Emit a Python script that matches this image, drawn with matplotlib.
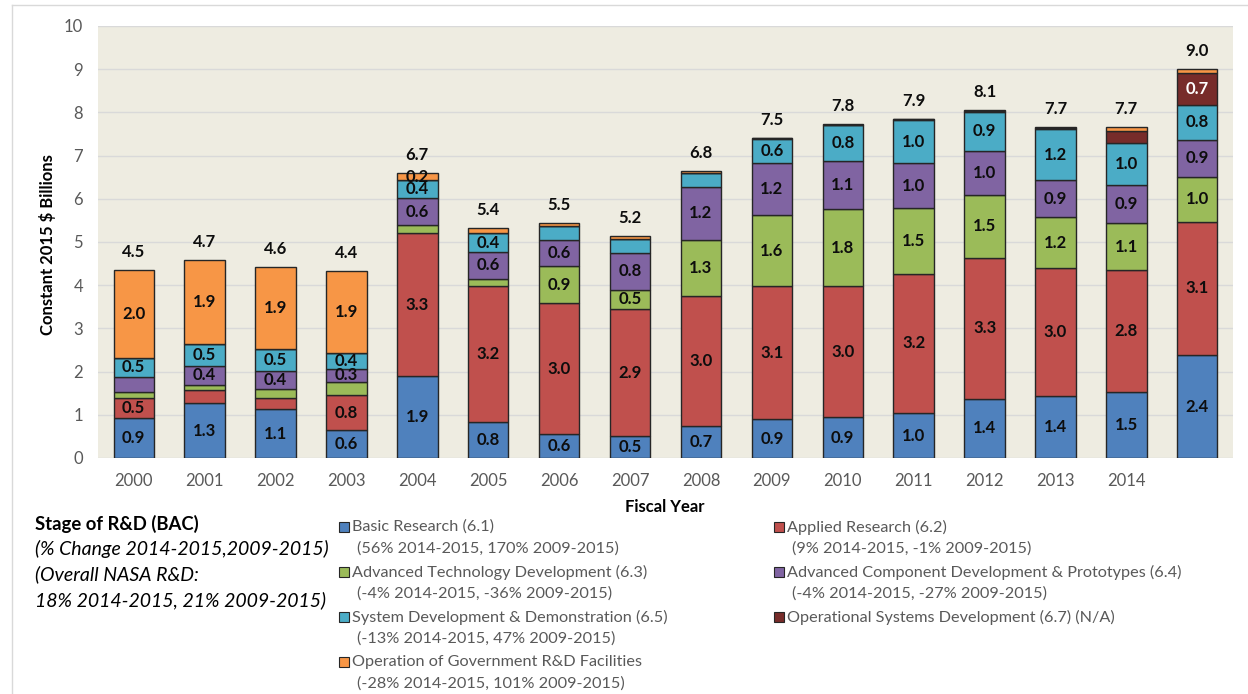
import numpy as np
import matplotlib
matplotlib.use('Agg')
import matplotlib.pyplot as plt
from matplotlib.patches import Rectangle
from matplotlib.lines import Line2D

# DATA (constant 2015 $ billions)
years = [str(y) for y in range(2000, 2015)] + ['']
totals = ['4.5', '4.7', '4.6', '4.4', '6.7', '5.4', '5.5', '5.2',
          '6.8', '7.5', '7.8', '7.9', '8.1', '7.7', '7.7', '9.0']

basic = [0.92, 1.27, 1.13, 0.64, 1.90, 0.83, 0.56, 0.51, 0.74, 0.90, 0.94, 1.04, 1.37, 1.44, 1.53, 2.38]
applied = [0.46, 0.30, 0.27, 0.81, 3.30, 3.16, 3.02, 2.93, 3.01, 3.08, 3.03, 3.23, 3.26, 2.96, 2.82, 3.09]
adv_tech = [0.14, 0.13, 0.19, 0.32, 0.19, 0.16, 0.87, 0.46, 1.29, 1.64, 1.80, 1.52, 1.46, 1.17, 1.08, 1.04]
adv_comp = [0.35, 0.42, 0.43, 0.28, 0.62, 0.62, 0.59, 0.84, 1.24, 1.20, 1.10, 1.03, 1.02, 0.86, 0.90, 0.86]
sys_dev = [0.45, 0.52, 0.50, 0.37, 0.42, 0.43, 0.32, 0.33, 0.32, 0.56, 0.83, 1.00, 0.91, 1.18, 0.96, 0.81]
op_sys = [0, 0, 0, 0, 0, 0, 0, 0, 0, 0.02, 0, 0.02, 0.02, 0.02, 0.27, 0.74]
facilities = [2.03, 1.94, 1.91, 1.90, 0.16, 0.13, 0.08, 0.06, 0.05, 0.01, 0.04, 0.01, 0.01, 0.04, 0.11, 0.08]

names = ['Basic Research (6.1)', 'Applied Research (6.2)', 'Advanced Technology Development (6.3)',
         'Advanced Component Development & Prototypes (6.4)', 'System Development & Demonstration (6.5)',
         'Operational Systems Development (6.7) (N/A)', 'Operation of Government R&D Facilities']
changes = ['(56% 2014-2015, 170% 2009-2015)', '(9% 2014-2015, -1% 2009-2015)',
           '(-4% 2014-2015, -36% 2009-2015)', '(-4% 2014-2015, -27% 2009-2015)',
           '(-13% 2014-2015, 47% 2009-2015)', '', '(-28% 2014-2015, 101% 2009-2015)']
colors = ['#4F81BD', '#C0504D', '#9BBB59', '#8064A2', '#4BACC6', '#772C2A', '#F79646']

# small segments that still carry a label in the original
extra_labels = [(3, '2003'), (6, '2004')]

plt.rcParams['font.family'] = ['Lato', 'DejaVu Sans']

W, H = 1248, 694
fig = plt.figure(figsize=(W / 100, H / 100), dpi=100)


def fx(px):
    return px / W


def fy(py):
    return 1 - py / H


ax = fig.add_axes([fx(98.3), fy(458), fx(1232.7) - fx(98.3), fy(26) - fy(458)])
ax.set_facecolor('#EEECE1')

x = np.arange(len(years))
bottom = np.zeros(len(years))
all_series = [basic, applied, adv_tech, adv_comp, sys_dev, op_sys, facilities]
for i, vals in enumerate(all_series):
    vals = np.array(vals)
    bars = ax.bar(x, vals, 0.57, bottom=bottom, color=colors[i],
                  edgecolor='#262626', linewidth=1, zorder=2)
    labels = []
    for v, yr in zip(vals, years):
        if v >= 0.36 or (i, yr) in extra_labels:
            labels.append(f'{v:.1f}')
        else:
            labels.append('')
    ax.bar_label(bars, labels=labels, label_type='center', fontsize=12,
                 fontweight='bold', color='white' if i == 5 else '#0D0D0D')
    bottom += vals

for xi, top, t in zip(x, bottom, totals):
    ax.annotate(t, (xi, top), xytext=(0, 13), textcoords='offset points',
                ha='center', va='center', fontsize=12, fontweight='bold', color='#0D0D0D')

ax.set_xlim(-0.5, len(years) - 0.5)
ax.set_ylim(0, 10)
ax.set_yticks(range(0, 11))
ax.set_xticks(x)
ax.set_xticklabels(years)
ax.tick_params(axis='both', length=0, colors='#595959', labelsize=12)
ax.tick_params(axis='y', pad=11)
ax.tick_params(axis='x', pad=11)
ax.grid(axis='y', color='#D9D9D9', linewidth=1, zorder=0)
ax.set_axisbelow(True)
for s in ax.spines.values():
    s.set_visible(False)

fig.text(fx(48), fy(245), 'Constant 2015 $ Billions', rotation=90, ha='center', va='center',
         fontsize=12, fontweight='bold')
fig.text(fx(665), fy(507), 'Fiscal Year', ha='center', va='center', fontsize=12, fontweight='bold')

# chart frame
fig.add_artist(Line2D([fx(12), fx(12)], [fy(5), 0], color='#D9D9D9', linewidth=1))
fig.add_artist(Line2D([fx(12), 1], [fy(5), fy(5)], color='#D9D9D9', linewidth=1))

# left text block
fig.text(fx(35), fy(524), 'Stage of R&D (BAC)', fontsize=13.3, fontweight='bold', va='center')
fig.text(fx(35), fy(549), '(% Change 2014-2015,2009-2015)', fontsize=14, style='italic', va='center')
fig.text(fx(35), fy(574), '(Overall NASA R&D:', fontsize=14, style='italic', va='center')
fig.text(fx(35), fy(600), '18% 2014-2015, 21% 2009-2015)', fontsize=14, style='italic', va='center')

# legend, drawn by hand in two columns
col1 = [0, 2, 4, 6]
col2 = [1, 3, 5]
rows_y = [527, 572, 617, 662]
for col, mx in ((col1, 339), (col2, 774)):
    for r, idx in enumerate(col):
        yy = rows_y[r]
        fig.add_artist(Rectangle((fx(mx), fy(yy + 5)), fx(10), 10 / H, facecolor=colors[idx],
                                 edgecolor='#262626', linewidth=0.8))
        fig.text(fx(mx + 13), fy(yy), names[idx], fontsize=11.7, color='#595959', va='center')
        if changes[idx]:
            fig.text(fx(mx + 18), fy(yy + 22), changes[idx], fontsize=11.7, color='#595959', va='center')

fig.savefig('out.png', dpi=100, facecolor='white')
